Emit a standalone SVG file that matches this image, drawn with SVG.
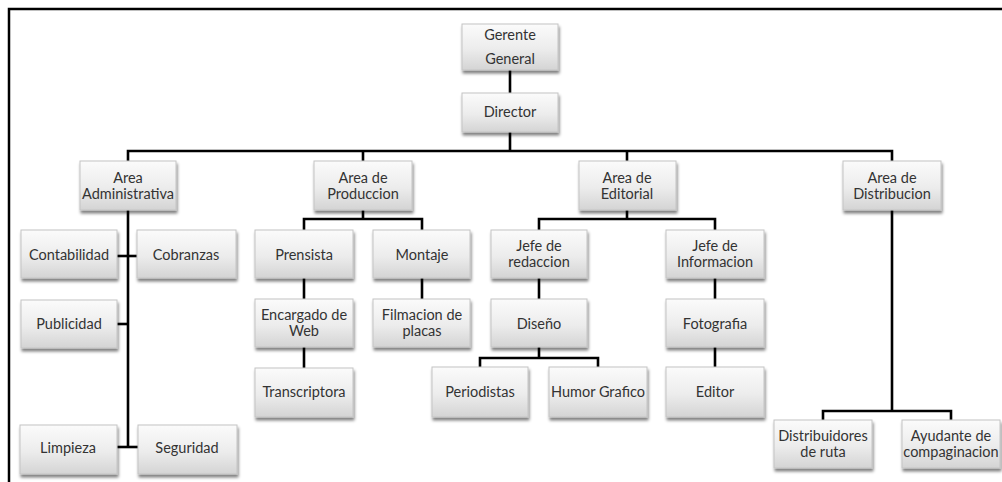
<svg xmlns="http://www.w3.org/2000/svg" width="1002" height="482" viewBox="0 0 1002 482">
  <defs>
    <linearGradient id="boxFill" x1="0" y1="0" x2="0" y2="1">
      <stop offset="0" stop-color="#fbfbfb"/>
      <stop offset="0.55" stop-color="#ececec"/>
      <stop offset="1" stop-color="#d4d4d4"/>
    </linearGradient>
    <filter id="shadow" x="-10%" y="-10%" width="125%" height="135%">
      <feGaussianBlur in="SourceAlpha" stdDeviation="1.8"/>
      <feOffset dx="1" dy="3" result="b"/>
      <feComponentTransfer><feFuncA type="linear" slope="0.5"/></feComponentTransfer>
      <feMerge><feMergeNode/><feMergeNode in="SourceGraphic"/></feMerge>
    </filter>
  </defs>
  <style>
    .box { fill: url(#boxFill); stroke: #c4c4c4; stroke-width: 1; filter: url(#shadow); }
    .lbl { font-family: "Lato", "Liberation Sans", sans-serif; font-size: 14.5px; fill: #333; text-anchor: middle; dominant-baseline: middle; }
    .wire { fill: none; stroke: #000; stroke-width: 2.6; stroke-linejoin: miter; }
    .frame { fill: none; stroke: #000; stroke-width: 2.5; }
  </style>

  <rect width="1002" height="482" fill="#fff"/>
  <path class="frame" d="M9,482 V9 H1002"/>

  <!-- connectors -->
  <g id="connectors">
    <path class="wire" d="M510,70 V93"/>
    <path class="wire" d="M510,132 V151"/>
    <path class="wire" d="M128,161 V151 H892 V161"/>
    <path class="wire" d="M363,151 V161"/>
    <path class="wire" d="M627,151 V161"/>
    <!-- administracion -->
    <path class="wire" d="M128,210 V447"/>
    <path class="wire" d="M117,256 H137"/>
    <path class="wire" d="M117,324 H128"/>
    <path class="wire" d="M117,447 H138"/>
    <!-- produccion -->
    <path class="wire" d="M363,210 V219"/>
    <path class="wire" d="M304,230 V219 H422 V230"/>
    <path class="wire" d="M304,278 V299"/>
    <path class="wire" d="M304,347 V368"/>
    <path class="wire" d="M422,278 V299"/>
    <!-- editorial -->
    <path class="wire" d="M627,210 V219"/>
    <path class="wire" d="M539,230 V219 H715 V230"/>
    <path class="wire" d="M539,278 V299"/>
    <path class="wire" d="M539,347 V358"/>
    <path class="wire" d="M480,367 V358 H598 V367"/>
    <path class="wire" d="M715,278 V299"/>
    <path class="wire" d="M715,347 V367"/>
    <!-- distribucion -->
    <path class="wire" d="M892,210 V411"/>
    <path class="wire" d="M823,420 V411 H951 V420"/>
  </g>

  <g id="gerente">
    <rect class="box" x="462" y="24" width="96" height="46"/>
    <text class="lbl" x="510" y="36">Gerente</text>
    <text class="lbl" x="510" y="60">General</text>
  </g>
  <g id="director">
    <rect class="box" x="462" y="93" width="96" height="39"/>
    <text class="lbl" x="510" y="113">Director</text>
  </g>

  <g id="area-administrativa">
    <rect class="box" x="80" y="161" width="96" height="49"/>
    <text class="lbl" x="128" y="179">Area</text>
    <text class="lbl" x="128" y="195">Administrativa</text>
  </g>
  <g id="area-produccion">
    <rect class="box" x="314" y="161" width="98" height="49"/>
    <text class="lbl" x="363" y="179">Area de</text>
    <text class="lbl" x="363" y="195">Produccion</text>
  </g>
  <g id="area-editorial">
    <rect class="box" x="579" y="161" width="97" height="49"/>
    <text class="lbl" x="627" y="179">Area de</text>
    <text class="lbl" x="627" y="195">Editorial</text>
  </g>
  <g id="area-distribucion">
    <rect class="box" x="843" y="161" width="98" height="49"/>
    <text class="lbl" x="892" y="179">Area de</text>
    <text class="lbl" x="892" y="195">Distribucion</text>
  </g>

  <g id="contabilidad">
    <rect class="box" x="21" y="230" width="96" height="48"/>
    <text class="lbl" x="69" y="256">Contabilidad</text>
  </g>
  <g id="cobranzas">
    <rect class="box" x="137" y="230" width="99" height="48"/>
    <text class="lbl" x="186" y="256">Cobranzas</text>
  </g>
  <g id="publicidad">
    <rect class="box" x="21" y="300" width="96" height="48"/>
    <text class="lbl" x="69" y="325">Publicidad</text>
  </g>
  <g id="limpieza">
    <rect class="box" x="20" y="425" width="97" height="49"/>
    <text class="lbl" x="68" y="449">Limpieza</text>
  </g>
  <g id="seguridad">
    <rect class="box" x="138" y="425" width="99" height="49"/>
    <text class="lbl" x="187" y="449">Seguridad</text>
  </g>

  <g id="prensista">
    <rect class="box" x="255" y="230" width="98" height="48"/>
    <text class="lbl" x="304" y="256">Prensista</text>
  </g>
  <g id="montaje">
    <rect class="box" x="373" y="230" width="97" height="48"/>
    <text class="lbl" x="422" y="256">Montaje</text>
  </g>
  <g id="encargado-web">
    <rect class="box" x="255" y="299" width="98" height="48"/>
    <text class="lbl" x="304" y="316">Encargado de</text>
    <text class="lbl" x="304" y="332">Web</text>
  </g>
  <g id="filmacion-placas">
    <rect class="box" x="373" y="299" width="97" height="48"/>
    <text class="lbl" x="422" y="316">Filmacion de</text>
    <text class="lbl" x="422" y="332">placas</text>
  </g>
  <g id="transcriptora">
    <rect class="box" x="255" y="368" width="98" height="49"/>
    <text class="lbl" x="304" y="393">Transcriptora</text>
  </g>

  <g id="jefe-redaccion">
    <rect class="box" x="491" y="230" width="96" height="48"/>
    <text class="lbl" x="539" y="247">Jefe de</text>
    <text class="lbl" x="539" y="263">redaccion</text>
  </g>
  <g id="jefe-informacion">
    <rect class="box" x="666" y="230" width="98" height="48"/>
    <text class="lbl" x="715" y="247">Jefe de</text>
    <text class="lbl" x="715" y="263">Informacion</text>
  </g>
  <g id="diseno">
    <rect class="box" x="491" y="299" width="96" height="48"/>
    <text class="lbl" x="539" y="325">Diseño</text>
  </g>
  <g id="fotografia">
    <rect class="box" x="666" y="299" width="98" height="48"/>
    <text class="lbl" x="715" y="325">Fotografia</text>
  </g>
  <g id="periodistas">
    <rect class="box" x="432" y="367" width="96" height="50"/>
    <text class="lbl" x="480" y="393">Periodistas</text>
  </g>
  <g id="humor-grafico">
    <rect class="box" x="549" y="367" width="98" height="50"/>
    <text class="lbl" x="598" y="393">Humor Grafico</text>
  </g>
  <g id="editor">
    <rect class="box" x="666" y="367" width="98" height="50"/>
    <text class="lbl" x="715" y="393">Editor</text>
  </g>

  <g id="distribuidores-ruta">
    <rect class="box" x="774" y="420" width="98" height="48"/>
    <text class="lbl" x="823" y="437">Distribuidores</text>
    <text class="lbl" x="823" y="453">de ruta</text>
  </g>
  <g id="ayudante-compaginacion">
    <rect class="box" x="902" y="420" width="98" height="48"/>
    <text class="lbl" x="951" y="437">Ayudante de</text>
    <text class="lbl" x="951" y="453">compaginacion</text>
  </g>
</svg>
